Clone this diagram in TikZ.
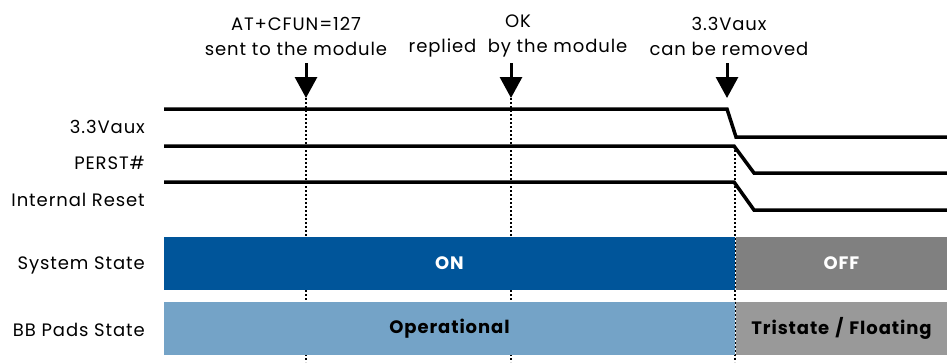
\documentclass[tikz,border=0pt]{standalone}
\usepackage{fontspec}
\setmainfont[LetterSpace=5]{Poppins}
\usetikzlibrary{arrows.meta,positioning}
\definecolor{onblue}{HTML}{00559A}
\definecolor{padblue}{HTML}{74A3C7}
\definecolor{offgrey}{HTML}{808080}
\definecolor{trigrey}{HTML}{999999}
\tikzset{
  sig/.style={line width=3.5pt, line join=miter},
  event/.style={align=center, inner sep=0pt, font=\fontsize{18}{25}\selectfont},
  signame/.style={anchor=east, inner sep=0pt, font=\fontsize{18}{20}\selectfont},
  evarrow/.style={line width=3pt, -{Triangle[width=22pt,length=21pt]}},
  timeline/.style={line width=2pt, dash pattern=on 2pt off 2pt},
  statebar/.style={minimum height=53pt, inner sep=0pt, font=\bfseries\fontsize{18}{20}\selectfont}
}

\begin{document}
\begin{tikzpicture}[x=1pt, y=-1pt]
   \useasboundingbox (0,0) rectangle (947,362);

   % events
   \node[event] (ev1) at (296,36) {AT+CFUN=127\\sent to the module};
   \node[event] (ev2) at (518,36) {OK\\replied~~by the module};
   \node[event] (ev3) at (729,36) {3.3Vaux\\can be removed};

   \coordinate (a1) at (306,63);  \coordinate (t1) at (306,98);
   \coordinate (a2) at (511,63);  \coordinate (t2) at (511,98);
   \coordinate (a3) at (727,63);  \coordinate (t3) at (727,98);
   \coordinate (b1) at (306,362);
   \coordinate (b2) at (511,362);
   \coordinate (b3) at (735,362);

   \draw[timeline] (t1) -- (b1);
   \draw[timeline] (t2) -- (b2);
   \draw[timeline] (735,146) -- (b3);

   \foreach \i in {1,2,3}
      \draw[evarrow] (a\i) -- (t\i);

   % signals
   \draw[sig] (164,109) -- (727,109) -- (736,137) -- (947,137);
   \draw[sig] (164,146) -- (734,146) -- (754,173) -- (947,173);
   \draw[sig] (164,182) -- (734,182) -- (754,210) -- (947,210);

   \node[signame] (vaux)  at (145,127) {3.3Vaux};
   \node[signame] (perst) at (145,163) {PERST\#};
   \node[signame] (ireset) at (145,200) {Internal Reset};

   % states
   \node[statebar, fill=onblue, text=white, minimum width=571pt] (on) at (449.5,263) {ON};
   \node[statebar, fill=offgrey, text=white, minimum width=211pt] (off) at (841.5,263) {OFF};
   \node[statebar, fill=padblue, minimum width=571pt] (oper) at (449.5,328.5) {Operational};
   \node[statebar, fill=trigrey, minimum width=211pt] (tri) at (841.5,328.5) {Tristate\hspace{6pt}/\hspace{6pt}Floating};

   \node[signame] (sys) at (145,265) {System State};
   \node[signame] (pads) at (145,330) {BB Pads State};
\end{tikzpicture}
\end{document}
